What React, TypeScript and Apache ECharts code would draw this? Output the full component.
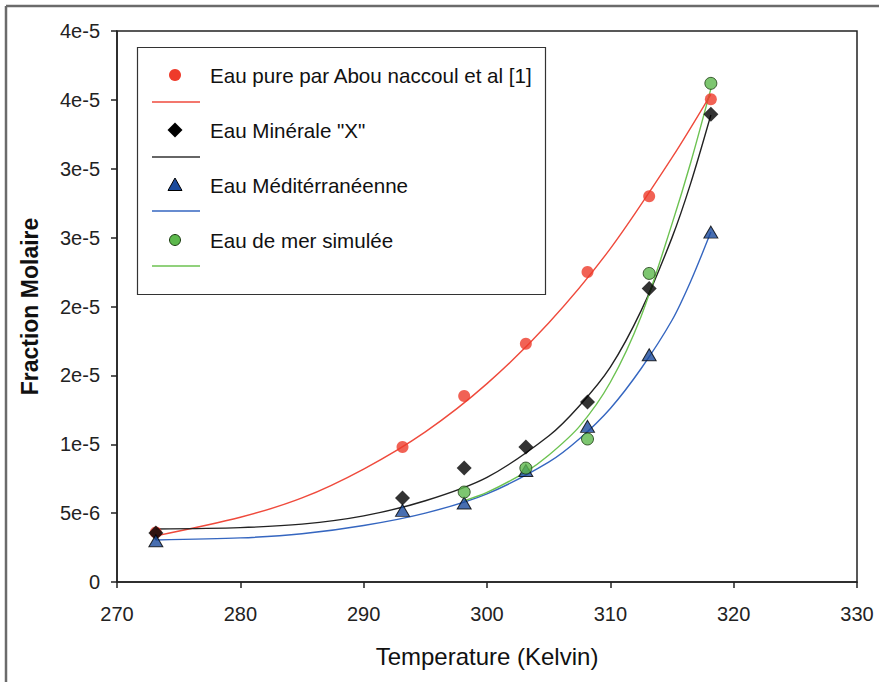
import React, { useEffect, useRef } from "react";
import * as echarts from "echarts";

// Measured temperatures (K)
const temperatures = [273.15, 293.15, 298.15, 303.15, 308.15, 313.15, 318.15];
const temperaturesMer = [298.15, 303.15, 308.15, 313.15, 318.15];

// Measured molar fractions
const eauPure = [3.6e-6, 9.8e-6, 13.5e-6, 17.3e-6, 22.5e-6, 28.0e-6, 35.05e-6];
const eauMinerale = [3.55e-6, 6.1e-6, 8.27e-6, 9.8e-6, 13.06e-6, 21.3e-6, 33.96e-6];
const eauMediterraneenne = [3.0e-6, 5.2e-6, 5.73e-6, 8.1e-6, 11.3e-6, 16.5e-6, 25.4e-6];
const eauMerSimulee = [6.53e-6, 8.27e-6, 10.38e-6, 22.4e-6, 36.2e-6];

// Fitted curves
const fitTempsPure = [273.15, 280, 285, 290, 295, 300, 305, 310, 315, 318.15];
const fitPure = [3.35e-6, 4.7e-6, 6.1e-6, 8.2e-6, 10.9e-6, 14.4e-6, 18.8e-6, 24.2e-6, 30.8e-6, 35.4e-6];
const fitTemps = [273.15, 280, 285, 290, 295, 300, 305, 307.5, 310, 312.5, 315, 316.5, 318.15];
const fitMinerale = [3.85e-6, 3.95e-6, 4.2e-6, 4.8e-6, 5.9e-6, 7.6e-6, 10.6e-6, 12.8e-6, 15.6e-6, 19.7e-6, 25.0e-6, 28.9e-6, 33.9e-6];
const fitMediterraneenne = [3.05e-6, 3.2e-6, 3.5e-6, 4.1e-6, 5.0e-6, 6.4e-6, 8.7e-6, 10.4e-6, 12.6e-6, 15.5e-6, 19.0e-6, 21.8e-6, 25.4e-6];
const fitMerTemps = [298.15, 300, 303.15, 305, 307.5, 310, 312.5, 315, 316.5, 318.15];
const fitMerSimulee = [5.9e-6, 6.5e-6, 8.0e-6, 9.2e-6, 11.3e-6, 14.5e-6, 19.3e-6, 26.0e-6, 30.4e-6, 35.8e-6];

// Tick labels as printed on the y axis
const yTickLabels = ["0", "5e-6", "1e-5", "2e-5", "2e-5", "3e-5", "3e-5", "4e-5", "4e-5"];

const legendNames = [
  "Eau pure par Abou naccoul et al [1]",
  'Eau Minérale "X"',
  "Eau Méditérranéenne",
  "Eau de mer simulée",
];

const FONT = "Liberation Sans, Arial, Helvetica, sans-serif";

const zip = (xs: number[], ys: number[]) => xs.map((x, i) => [x, ys[i]]);

export default function App() {
  const ref = useRef<HTMLDivElement>(null);

  useEffect(() => {
    document.body.style.margin = "0";
    if (!ref.current) return;
    const chart = echarts.init(ref.current, null, { renderer: "svg" });

    const lineSeries = (data: number[][], color: string) => ({
      type: "line",
      data,
      smooth: 0.3,
      showSymbol: false,
      symbol: "none",
      lineStyle: { color, width: 1.4 },
      z: 2,
      silent: true,
    });

    const legendX = 175;
    const rowY = [75, 130, 185, 240];
    const lineY = [102, 157, 211, 266];
    const lineColors = ["#ef4a3c", "#333333", "#3566c0", "#6cc251"];

    const graphic: any[] = [
      // outer frame
      { type: "line", shape: { x1: 6, y1: 6, x2: 879, y2: 6 }, style: { stroke: "#6b6b6b", lineWidth: 2.5 } },
      { type: "line", shape: { x1: 6, y1: 6, x2: 6, y2: 682 }, style: { stroke: "#6b6b6b", lineWidth: 2.5 } },
      // legend box
      {
        type: "rect",
        shape: { x: 137.5, y: 47.5, width: 408, height: 247 },
        style: { fill: "#fff", stroke: "#333", lineWidth: 1.2 },
        z: 10,
      },
      { type: "circle", shape: { cx: legendX, cy: rowY[0], r: 6 }, style: { fill: "#ee3b2b" }, z: 11 },
      {
        type: "polygon",
        shape: { points: [[legendX, rowY[1] - 7.5], [legendX + 7.5, rowY[1]], [legendX, rowY[1] + 7.5], [legendX - 7.5, rowY[1]]] },
        style: { fill: "#000" },
        z: 11,
      },
      {
        type: "polygon",
        shape: { points: [[legendX, rowY[2] - 7], [legendX + 7, rowY[2] + 5.5], [legendX - 7, rowY[2] + 5.5]] },
        style: { fill: "#1a4a9c", stroke: "#000", lineWidth: 1 },
        z: 11,
      },
      { type: "circle", shape: { cx: legendX, cy: rowY[3], r: 5.5 }, style: { fill: "#5cb84c", stroke: "#1a3a10", lineWidth: 1 }, z: 11 },
    ];
    legendNames.forEach((name, i) => {
      graphic.push({
        type: "text",
        x: 210,
        y: rowY[i],
        style: { text: name, font: `20.6px ${FONT}`, fill: "#111", verticalAlign: "middle" },
        z: 11,
      });
      graphic.push({
        type: "line",
        shape: { x1: 152, y1: lineY[i], x2: 200, y2: lineY[i] },
        style: { stroke: lineColors[i], lineWidth: 1.5 },
        z: 11,
      });
    });

    chart.setOption({
      animation: false,
      backgroundColor: "#fff",
      grid: {
        left: 117,
        top: 31,
        right: 22,
        bottom: 100,
        show: true,
        borderColor: "#222",
        borderWidth: 1.5,
        containLabel: false,
      },
      xAxis: {
        type: "value",
        min: 270,
        max: 330,
        interval: 10,
        name: "Temperature (Kelvin)",
        nameLocation: "middle",
        nameGap: 62,
        nameTextStyle: { fontFamily: FONT, fontSize: 24, color: "#111" },
        axisLine: { show: true, lineStyle: { color: "#222", width: 1.5 } },
        axisTick: { show: true, inside: false, length: 6, lineStyle: { color: "#222", width: 1.5 } },
        axisLabel: { fontFamily: FONT, fontSize: 20, color: "#222", margin: 22 },
        splitLine: { show: false },
      },
      yAxis: {
        type: "value",
        min: 0,
        max: 4e-5,
        interval: 5e-6,
        name: "Fraction Molaire",
        nameLocation: "middle",
        nameGap: 76,
        nameTextStyle: { fontFamily: FONT, fontSize: 23, fontWeight: "bold", color: "#111" },
        axisLine: { show: true, lineStyle: { color: "#222", width: 1.5 } },
        axisTick: { show: true, inside: false, length: 6, lineStyle: { color: "#222", width: 1.5 } },
        axisLabel: {
          fontFamily: FONT,
          fontSize: 20,
          color: "#222",
          margin: 17,
          formatter: (v: number) => yTickLabels[Math.round(v / 5e-6)] ?? "",
        },
        splitLine: { show: false },
      },
      graphic,
      series: [
        lineSeries(zip(fitTempsPure, fitPure), "#ef4a3c"),
        lineSeries(zip(fitTemps, fitMinerale), "#222222"),
        lineSeries(zip(fitTemps, fitMediterraneenne), "#3566c0"),
        lineSeries(zip(fitMerTemps, fitMerSimulee), "#6cc251"),
        {
          type: "scatter",
          name: legendNames[0],
          data: zip(temperatures, eauPure),
          symbol: "circle",
          symbolSize: 12,
          itemStyle: { color: "#ee3b2b" },
          z: 3,
        },
        {
          type: "scatter",
          name: legendNames[1],
          data: zip(temperatures, eauMinerale),
          symbol: "diamond",
          symbolSize: 15,
          itemStyle: { color: "#000" },
          z: 3,
        },
        {
          type: "scatter",
          name: legendNames[2],
          data: zip(temperatures, eauMediterraneenne),
          symbol: "triangle",
          symbolSize: [14, 12],
          itemStyle: { color: "#1a4a9c", borderColor: "#000", borderWidth: 1 },
          z: 3,
        },
        {
          type: "scatter",
          name: legendNames[3],
          data: zip(temperaturesMer, eauMerSimulee),
          symbol: "circle",
          symbolSize: 12,
          itemStyle: { color: "#5cb84c", borderColor: "#1a3a10", borderWidth: 1 },
          z: 3,
        },
      ],
    });

    return () => chart.dispose();
  }, []);

  return <div ref={ref} style={{ width: 879, height: 682 }} />;
}
